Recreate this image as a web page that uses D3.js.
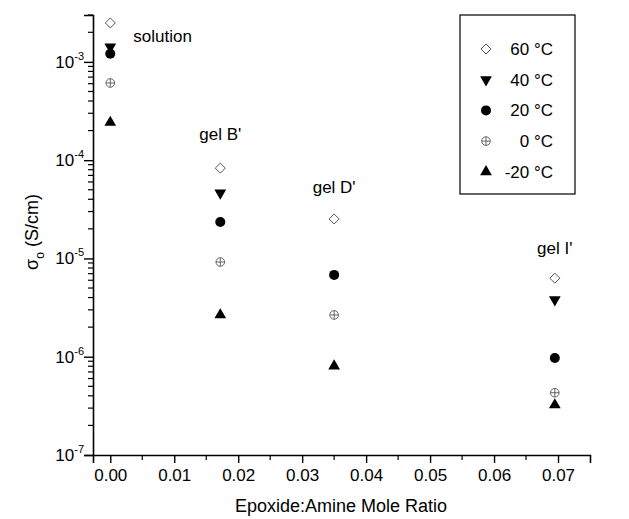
<!DOCTYPE html>
<html>
<head>
<meta charset="utf-8">
<script src="https://cdn.jsdelivr.net/npm/d3@7"></script>
<style>
  html, body { margin: 0; padding: 0; background: #fff; }
  svg { display: block; font-family: "Liberation Sans", Arial, sans-serif; }
</style>
</head>
<body>
<svg id="chart" width="629" height="519"></svg>
<script>
// ---- data ----
const groups = ["solution", "gel B'", "gel D'", "gel I'"];
const ratios = [0, 0.0172, 0.035, 0.0695];
const seriesNames = ["60 °C", "40 °C", "20 °C", "0 °C", "-20 °C"];
const t60  = [2.49e-3, 8.3e-5, 2.52e-5, 6.3e-6];
const t40  = [1.42e-3, 4.64e-5, null,   3.8e-6];
const t20  = [1.21e-3, 2.35e-5, 6.8e-6, 9.7e-7];
const t0   = [6.1e-4,  9.2e-6,  2.66e-6, 4.3e-7];
const tm20 = [2.42e-4, 2.66e-6, 8.05e-7, 3.23e-7];
const xTicks = [0, 0.01, 0.02, 0.03, 0.04, 0.05, 0.06, 0.07];
const yTickExps = [-7, -6, -5, -4, -3];
const groupLabelValues = [1.6e-3, 1.6e-4, 4.6e-5, 1.1e-5];

const series = [t60, t40, t20, t0, tm20];
const markerTypes = ["diamond", "down", "circle", "cross", "up"];

const svg = d3.select("#chart");
const x = d3.scaleLinear().domain([-0.0027, 0.075]).range([93, 590]);
const y = d3.scaleLog().domain([1e-7, 3e-3]).range([455, 15]);

// ---- axes ----
const xAxis = d3.axisBottom(x).tickValues(xTicks).tickFormat(d3.format(".2f")).tickSizeOuter(0).tickSize(8).tickPadding(6);
const gx = svg.append("g").attr("transform", "translate(0,455)").call(xAxis);
gx.select(".domain").attr("stroke-width", 1.6);
gx.selectAll(".tick line").attr("stroke-width", 1.4);
gx.selectAll(".tick text").attr("font-size", 17).attr("fill", "#000").attr("font-family", "Liberation Sans, Arial, sans-serif");
// minor x ticks
const xMinor = d3.range(0.005, 0.075, 0.01);
svg.append("g").selectAll("line").data(xMinor).join("line")
  .attr("x1", d => x(d)).attr("x2", d => x(d)).attr("y1", 455).attr("y2", 460)
  .attr("stroke", "#000").attr("stroke-width", 1.2);

// y axis
const yMajor = yTickExps.map(e => Math.pow(10, e));
const yAxis = d3.axisLeft(y).tickValues(yMajor).tickFormat("").tickSizeOuter(0).tickSize(9);
const gy = svg.append("g").attr("transform", "translate(93,0)").call(yAxis);
gy.select(".domain").attr("stroke-width", 1.6);
gy.selectAll(".tick line").attr("stroke-width", 1.4);
const yMinor = [];
yTickExps.forEach(e => { for (let m = 2; m <= 9; m++) { const v = m * Math.pow(10, e); if (v <= 3e-3) yMinor.push(v); } });
svg.append("g").selectAll("line").data(yMinor).join("line")
  .attr("x1", 93).attr("x2", 88).attr("y1", d => y(d)).attr("y2", d => y(d))
  .attr("stroke", "#000").attr("stroke-width", 1.2);
// y tick labels
const yl = svg.append("g").selectAll("text").data(yTickExps).join("text")
  .attr("x", 84).attr("y", d => y(Math.pow(10, d)) + 6)
  .attr("text-anchor", "end").attr("font-size", 17).attr("fill", "#000");
yl.append("tspan").text("10");
yl.append("tspan").attr("dy", -8).attr("font-size", 11).text(d => String(d));

// axis titles
svg.append("text").attr("x", 341).attr("y", 512).attr("text-anchor", "middle")
  .attr("font-size", 18).text("Epoxide:Amine Mole Ratio");
const yt = svg.append("text").attr("transform", "translate(38,232) rotate(-90)")
  .attr("text-anchor", "middle").attr("font-size", 18);
yt.append("tspan").text("σ");
yt.append("tspan").attr("dy", 6).attr("font-size", 12).text("o");
yt.append("tspan").attr("dy", -6).text(" (S/cm)");

// ---- markers ----
function drawMarker(g, type, cx, cy) {
  if (type === "diamond") {
    g.append("path").attr("d", d3.symbol(d3.symbolDiamond2, 64)())
      .attr("transform", `translate(${cx},${cy})`).attr("fill", "#fff").attr("stroke", "#444").attr("stroke-width", 0.9);
  } else if (type === "down") {
    g.append("path").attr("d", d3.symbol(d3.symbolTriangle, 60)())
      .attr("transform", `translate(${cx},${cy}) rotate(180)`).attr("fill", "#000");
  } else if (type === "up") {
    g.append("path").attr("d", d3.symbol(d3.symbolTriangle, 60)())
      .attr("transform", `translate(${cx},${cy})`).attr("fill", "#000");
  } else if (type === "circle") {
    g.append("circle").attr("cx", cx).attr("cy", cy).attr("r", 5).attr("fill", "#000");
  } else if (type === "cross") {
    g.append("circle").attr("cx", cx).attr("cy", cy).attr("r", 4.3).attr("fill", "#fff").attr("stroke", "#555").attr("stroke-width", 0.9);
    g.append("line").attr("x1", cx - 4.3).attr("x2", cx + 4.3).attr("y1", cy).attr("y2", cy).attr("stroke", "#555").attr("stroke-width", 0.9);
    g.append("line").attr("x1", cx).attr("x2", cx).attr("y1", cy - 4.3).attr("y2", cy + 4.3).attr("stroke", "#555").attr("stroke-width", 0.9);
  }
}

const pts = svg.append("g");
series.forEach((vals, si) => {
  vals.forEach((v, i) => {
    if (v == null) return;
    drawMarker(pts, markerTypes[si], x(ratios[i]), y(v));
  });
});

// group labels
const labelDx = [23, 0, 0, 0];
svg.append("g").selectAll("text").data(groups).join("text")
  .attr("x", (d, i) => x(ratios[i]) + labelDx[i])
  .attr("y", (d, i) => y(groupLabelValues[i]))
  .attr("text-anchor", (d, i) => i === 0 ? "start" : "middle")
  .attr("font-size", 17).text(d => d);

// ---- legend ----
const leg = svg.append("g");
leg.append("rect").attr("x", 460).attr("y", 15).attr("width", 115).attr("height", 179)
  .attr("fill", "#fff").attr("stroke", "#000").attr("stroke-width", 1.2);
seriesNames.forEach((name, i) => {
  const cy = 49 + i * 30.7;
  drawMarker(leg, markerTypes[i], 486, cy);
  leg.append("text").attr("x", 553).attr("y", cy + 6).attr("text-anchor", "end")
    .attr("font-size", 17).text(name);
});
</script>
</body>
</html>
